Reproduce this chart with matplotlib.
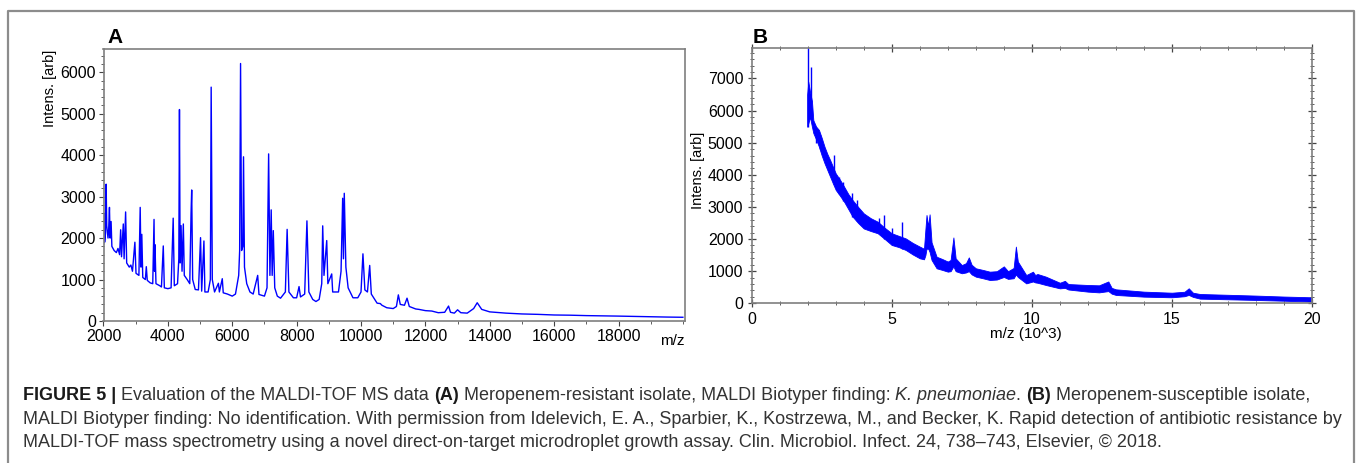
import numpy as np
import matplotlib
matplotlib.use('Agg')
import matplotlib.pyplot as plt
from matplotlib.ticker import MultipleLocator
from matplotlib.transforms import IdentityTransform
from matplotlib.lines import Line2D

plt.rcParams['font.family'] = ['Liberation Sans', 'DejaVu Sans']

# ── Panel A: spectrum points (m/z, intensity) ──
a_mz = [2000, 2010, 2020, 2035, 2060, 2082, 2100, 2140, 2160, 2185, 2205, 2236, 2260,
        2330, 2400, 2450, 2500, 2533, 2560, 2615, 2640, 2687, 2720, 2800, 2850, 2900,
        2975, 3010, 3100, 3140, 3165, 3190, 3220, 3300, 3330, 3360, 3450, 3530, 3570,
        3585, 3600, 3630, 3750, 3800, 3857, 3890, 4000, 4100, 4165, 4200, 4300, 4340,
        4360, 4380, 4410, 4440, 4480, 4510, 4600, 4680, 4720, 4740, 4770, 4850, 4950,
        5015, 5050, 5120, 5150, 5250, 5320, 5345, 5380, 5450, 5570, 5600, 5690, 5720,
        5850, 6000, 6100, 6200, 6230, 6258, 6290, 6330, 6350, 6380, 6450, 6550, 6650,
        6790, 6830, 7000, 7080, 7130, 7170, 7210, 7240, 7275, 7320, 7400, 7500, 7650,
        7705, 7760, 7900, 8000, 8075, 8120, 8250, 8320, 8380, 8500, 8600, 8700, 8780,
        8810, 8850, 8935, 8970, 9090, 9120, 9300, 9380, 9430, 9455, 9480, 9530, 9600,
        9750, 9900, 10000, 10060, 10120, 10200, 10270, 10320, 10500, 10600, 10650,
        10800, 11000, 11100, 11160, 11220, 11350, 11430, 11500, 11700, 11800, 12000,
        12200, 12400, 12600, 12720, 12780, 12900, 13000, 13100, 13300, 13500, 13610,
        13750, 14000, 14500, 15000, 15500, 16000, 16500, 17000, 17500, 18000, 18500,
        19000, 19500, 20000]
a_int = [1850, 2200, 2600, 1900, 2100, 3300, 2300, 2000, 2200, 2740, 2000, 2400, 1800,
         1700, 1650, 1750, 1600, 2200, 1550, 2340, 1500, 2630, 1400, 1300, 1350, 1200,
         1900, 1150, 1100, 2740, 1300, 2090, 1050, 1000, 1310, 980, 920, 900, 2450,
         1200, 1840, 900, 850, 820, 1810, 800, 780, 800, 2480, 850, 900, 1500,
         5100, 1400, 2300, 1200, 2340, 1100, 1000, 900, 2600, 3160, 1000, 760, 750,
         2010, 720, 1930, 700, 700, 1000, 5640, 1000, 700, 910, 700, 1020, 680,
         650, 600, 650, 1100, 1700, 6210, 1700, 1800, 3960, 1300, 900, 700, 650,
         1100, 640, 600, 800, 4030, 1100, 2680, 1100, 2180, 800, 600, 550, 700,
         2210, 700, 560, 560, 830, 580, 650, 2415, 700, 520, 470, 520, 900,
         2295, 1100, 1940, 900, 1135, 700, 700, 1200, 2960, 1500, 3080, 1300, 800,
         560, 560, 700, 1620, 750, 700, 1340, 650, 430, 420, 380,
         320, 300, 350, 630, 400, 380, 550, 350, 290, 280, 250,
         240, 200, 210, 360, 210, 190, 270, 200, 190, 300, 440,
         280, 220, 190, 170, 160, 145, 140, 130, 125, 118, 110,
         100, 95, 90]

# ── Panel B: edges of the noise band (m/z in 10^3) ──
b_mz = [1.98, 2.02, 2.08, 2.15, 2.2, 2.3, 2.4, 2.5, 2.6, 2.7, 2.8, 2.9, 3.0, 3.15,
        3.3, 3.45, 3.6, 3.8, 4.0, 4.25, 4.5, 4.75, 5.0, 5.25, 5.5, 5.75, 6.0, 6.15,
        6.2, 6.24, 6.3, 6.35, 6.42, 6.6, 6.8, 7.0, 7.1, 7.2, 7.28, 7.5, 7.65, 7.75,
        7.85, 8.0, 8.25, 8.5, 8.75, 9.0, 9.15, 9.35, 9.43, 9.5, 9.8, 10.04, 10.12,
        10.2, 10.5, 11.0, 11.18, 11.3, 12.0, 12.4, 12.73, 12.85, 13.0, 14.0, 15.0,
        15.45, 15.6, 15.75, 16.0, 17.0, 18.0, 19.0, 20.0]
b_upper = [6500, 6900, 6600, 6300, 5700, 5500, 5400, 5150, 4875, 4650, 4460, 4250, 4045, 3850,
           3630, 3400, 3215, 3000, 2800, 2650, 2540, 2350, 2180, 2100, 2020, 1880, 1765, 1700,
           2300, 2750, 2400, 2770, 1900, 1450, 1380, 1300, 1350, 2050, 1400, 1190, 1250, 1430,
           1200, 1090, 1040, 985, 1000, 1150, 1000, 1100, 1765, 1300, 880, 985, 880,
           913, 830, 640, 700, 600, 570, 560, 680, 480, 435, 363, 330,
           360, 467, 330, 290, 265, 240, 210, 187]
b_lower = [5500, 5600, 5800, 5500, 5300, 5100, 4875, 4600, 4360, 4150, 3940, 3730, 3530, 3350,
           3160, 2930, 2700, 2500, 2330, 2250, 2180, 2000, 1815, 1750, 1660, 1520, 1400, 1370,
           1500, 1700, 1700, 1600, 1350, 1090, 1040, 985, 1000, 1150, 1000, 935, 960, 1000,
           900, 830, 780, 725, 740, 820, 760, 780, 900, 820, 620, 680, 650,
           640, 570, 465, 480, 430, 363, 340, 380, 300, 260, 207, 187,
           220, 260, 200, 145, 125, 104, 80, 52]

# narrow spikes above the band: position, foot, top
b_spike_mz = [2.02, 2.1, 2.31, 2.45, 2.94, 3.13, 3.26, 3.58, 3.77, 4.53, 4.72, 5.02, 5.35]
b_spike_base = [5500, 5800, 5000, 4800, 3700, 3400, 3200, 2700, 2550, 2200, 2000, 1800, 1700]
b_spike_top = [8100, 7370, 5500, 5250, 4615, 3940, 3790, 3420, 3215, 2645, 2750, 2330, 2540]

W, H = 1357, 463
BLUE = '#0000ff'
SPINE = '#7f7f7f'

fig = plt.figure(figsize=(W / 100, H / 100), dpi=100)


def px_box(l, t, r, b):
    return [l / W, 1 - b / H, (r - l) / W, (b - t) / H]


# ── Panel A ──
ax_a = fig.add_axes(px_box(103.5, 49, 684.5, 321))
ax_a.plot(a_mz, a_int, color=BLUE, lw=1.0)
ax_a.set_xlim(2000, 20050)
ax_a.set_ylim(0, 6560)
ax_a.set_xticks(np.arange(2000, 19000, 2000))
ax_a.xaxis.set_minor_locator(MultipleLocator(1000))
ax_a.yaxis.set_major_locator(MultipleLocator(1000))
ax_a.yaxis.set_minor_locator(MultipleLocator(200))
ax_a.tick_params(which='both', direction='out', color='#444444', labelsize=11.5, pad=2)
ax_a.tick_params(which='major', length=3.5, width=0.8)
ax_a.tick_params(which='minor', length=2, width=0.6)
for s in ax_a.spines.values():
    s.set_color(SPINE)
    s.set_linewidth(1.2)

# ── Panel B ──
ax_b = fig.add_axes(px_box(751.7, 48.3, 1312, 303.3))
ax_b.fill_between(b_mz, b_lower, b_upper, color=BLUE, lw=0.6)
ax_b.vlines(b_spike_mz, b_spike_base, b_spike_top, color=BLUE, lw=1.0)
ax_b.set_xlim(0, 20)
ax_b.set_ylim(0, 7940)
ax_b.xaxis.set_major_locator(MultipleLocator(5))
ax_b.xaxis.set_minor_locator(MultipleLocator(1))
ax_b.yaxis.set_major_locator(MultipleLocator(1000))
ax_b.yaxis.set_minor_locator(MultipleLocator(200))
ax_b.tick_params(which='both', direction='inout', color='#444444', labelsize=11.5,
                 top=True, right=True, pad=3)
ax_b.tick_params(which='major', length=6, width=0.9)
ax_b.tick_params(which='minor', length=3, width=0.6)
for s in ax_b.spines.values():
    s.set_color(SPINE)
    s.set_linewidth(1.2)

pix = IdentityTransform()
fig.text(107, H - 43, "A", transform=pix, fontsize=15, fontweight='bold')
fig.text(753, H - 43, "B", transform=pix, fontsize=15, fontweight='bold')
fig.text(50, H - 88, "Intens. [arb]", transform=pix, fontsize=10.5, rotation=90,
         ha='center', va='center')
fig.text(698, H - 170, "Intens. [arb]", transform=pix, fontsize=10.5, rotation=90,
         ha='center', va='center')
fig.text(672, H - 341, "m/z", transform=pix, fontsize=11, ha='center', va='center')
fig.text(1026, H - 334, "m/z (10^3)", transform=pix, fontsize=11, ha='center', va='center')

# outer frame
fig.add_artist(Line2D([8, 8, 1354, 1354], [0, H - 10.5, H - 10.5, 0],
                      transform=pix, color='#8c8c8c', lw=1.6))

# ── Caption ──
cap_lines = [
    [("FIGURE 5 |", 'bold'), (" Evaluation of the MALDI-TOF MS data ", 'normal'), ("(A)", 'bold'),
     (" Meropenem-resistant isolate, MALDI Biotyper finding: ", 'normal'),
     ("K. pneumoniae", 'italic'), (". ", 'normal'), ("(B)", 'bold'),
     (" Meropenem-susceptible isolate,", 'normal')],
    [("MALDI Biotyper finding: No identification. With permission from Idelevich, E. A., "
      "Sparbier, K., Kostrzewa, M., and Becker, K. Rapid detection of antibiotic resistance by",
      'normal')],
    [("MALDI-TOF mass spectrometry using a novel direct-on-target microdroplet growth assay. "
      "Clin. Microbiol. Infect. 24, 738\u2013743, Elsevier, \u00a9 2018.", 'normal')],
]
cap_base = [400, 424, 447]
cap_family = ['Liberation Sans Narrow', 'Liberation Sans', 'DejaVu Sans']
renderer = fig.canvas.get_renderer()


def measure(txt, size, style):
    t = fig.text(0, 0, "|" + txt + "|", transform=pix, fontsize=size, family=cap_family,
                 fontweight='bold' if style == 'bold' else 'normal',
                 fontstyle='italic' if style == 'italic' else 'normal')
    w = t.get_window_extent(renderer).width
    t.remove()
    t = fig.text(0, 0, "||", transform=pix, fontsize=size, family=cap_family,
                 fontweight='bold' if style == 'bold' else 'normal',
                 fontstyle='italic' if style == 'italic' else 'normal')
    w -= t.get_window_extent(renderer).width
    t.remove()
    return w


# fit the font so the second (full) line spans its width in the picture
size = 12.0 * 1319 / measure(cap_lines[1][0][0], 12.0, 'normal')

for runs, yb in zip(cap_lines, cap_base):
    x = 23
    for txt, style in runs:
        fig.text(x, H - yb, txt, transform=pix, fontsize=size, family=cap_family,
                 fontweight='bold' if style == 'bold' else 'normal',
                 fontstyle='italic' if style == 'italic' else 'normal',
                 color='#1a1a1a' if style == 'bold' else '#333333', va='baseline')
        x += measure(txt, size, style)

fig.savefig("out.png", dpi=100)
